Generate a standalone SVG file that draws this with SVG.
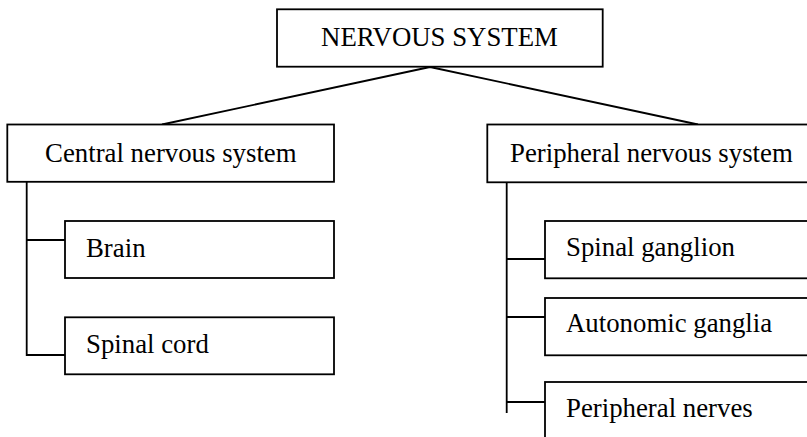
<svg xmlns="http://www.w3.org/2000/svg" width="807" height="437" viewBox="0 0 807 437">
<style>
.box{fill:#fff;stroke:#000;stroke-width:1.8}
.ln{fill:none;stroke:#000;stroke-width:1.8}
.t{font-family:'Liberation Serif','Times New Roman',Times,serif;font-size:26.8px;fill:#000}
</style>
<rect width="807" height="437" fill="#fff"/>
<g id="connectors">
<path class="ln" d="M430,67 L162,124.5 M430,67 L698,124.5"/>
<path class="ln" d="M26.7,182 V355 H65 M26.7,240 H65"/>
<path class="ln" d="M506.7,182 V413 M506.7,259 H545 M506.7,317 H545 M506.7,402 H545"/>
</g>
<g id="nervous-system">
<rect class="box" x="277" y="9.3" width="325.7" height="57.4"/>
<text class="t" x="439.5" y="45.7" text-anchor="middle">NERVOUS SYSTEM</text>
</g>
<g id="cns">
<rect class="box" x="7.3" y="124.5" width="326.7" height="57.3"/>
<text class="t" x="170.8" y="162.3" text-anchor="middle">Central nervous system</text>
</g>
<g id="pns">
<rect class="box" x="487.3" y="124.5" width="330" height="57.8"/>
<text class="t" x="510" y="162.3">Peripheral nervous system</text>
</g>
<g id="brain">
<rect class="box" x="65" y="221" width="269" height="57"/>
<text class="t" x="86" y="257">Brain</text>
</g>
<g id="spinal-cord">
<rect class="box" x="65" y="317.3" width="269" height="57"/>
<text class="t" x="86" y="352.7">Spinal cord</text>
</g>
<g id="spinal-ganglion">
<rect class="box" x="545" y="221" width="270" height="57.3"/>
<text class="t" x="566" y="256">Spinal ganglion</text>
</g>
<g id="autonomic-ganglia">
<rect class="box" x="545" y="298" width="270" height="57.3"/>
<text class="t" x="566" y="332.3">Autonomic ganglia</text>
</g>
<g id="peripheral-nerves">
<rect class="box" x="545" y="382" width="270" height="70"/>
<text class="t" x="566" y="416.7">Peripheral nerves</text>
</g>
</svg>
